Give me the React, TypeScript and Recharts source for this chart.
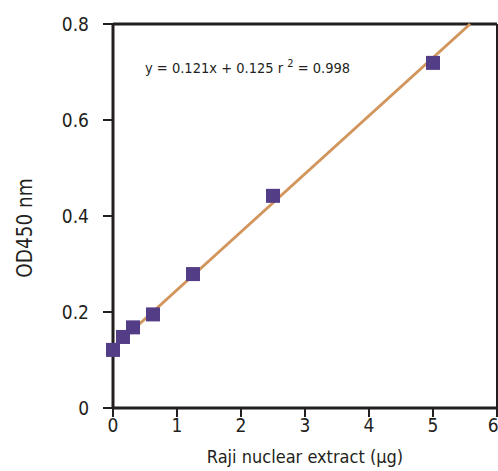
import React from 'react';
import {
  ScatterChart,
  Scatter,
  XAxis,
  YAxis,
  ReferenceLine,
} from 'recharts';

// Raji nuclear extract (µg) vs OD450
const extractUg = [0, 0.156, 0.3125, 0.625, 1.25, 2.5, 5];
const od450 = [0.121, 0.148, 0.168, 0.195, 0.279, 0.442, 0.719];

// fit line
const fitX = [0, 5.58];
const fitY = [0.125, 0.8];

const xTicks = [0, 1, 2, 3, 4, 5, 6];
const yTicks = [0, 0.2, 0.4, 0.6, 0.8];

const FONT = "'DejaVu Sans Condensed', 'Liberation Sans Narrow', sans-serif";
const AXIS = '#231f20';

const points = extractUg.map((x, i) => ({ x, y: od450[i] }));

const SquareDot = (props: any) => {
  const { cx, cy } = props;
  if (cx == null || cy == null) return null;
  return <rect x={cx - 7} y={cy - 7} width={14} height={14} fill="#543d87" />;
};

const YLabel = () => (
  <text
    x={25}
    y={228}
    transform="rotate(-90, 25, 228)"
    textAnchor="middle"
    dominantBaseline="central"
    fontSize={20.5}
    fill={AXIS}
    fontFamily={FONT}
  >
    OD450 nm
  </text>
);

export default function App() {
  return (
    <div style={{ position: 'absolute', left: 0, top: 0, width: 498, height: 471 }}>
      <ScatterChart
        width={498}
        height={471}
        margin={{ top: 24, right: 1, bottom: 0, left: 0 }}
      >
        <XAxis
          type="number"
          dataKey="x"
          domain={[0, 6]}
          ticks={xTicks}
          height={63}
          axisLine={{ stroke: AXIS, strokeWidth: 3 }}
          tickLine={{ stroke: AXIS, strokeWidth: 2 }}
          tickSize={9}
          tick={{ fill: AXIS, fontSize: 19, fontFamily: FONT }}
          label={{
            value: 'Raji nuclear extract (µg)',
            position: 'insideBottom',
            offset: 8,
            fill: AXIS,
            fontSize: 18,
            fontFamily: FONT,
          }}
        />
        <YAxis
          type="number"
          dataKey="y"
          domain={[0, 0.8]}
          ticks={yTicks}
          width={113}
          axisLine={{ stroke: AXIS, strokeWidth: 3 }}
          tickLine={{ stroke: AXIS, strokeWidth: 2 }}
          tickSize={10}
          tickMargin={14}
          tick={{ fill: AXIS, fontSize: 19, fontFamily: FONT }}
          label={{ content: <YLabel /> }}
        />
        <ReferenceLine y={0.8} stroke={AXIS} strokeWidth={3} />
        <ReferenceLine x={6} stroke={AXIS} strokeWidth={2} />
        <ReferenceLine
          segment={[
            { x: fitX[0], y: fitY[0] },
            { x: fitX[1], y: fitY[1] },
          ]}
          stroke="#d2955c"
          strokeWidth={3}
        />
        <Scatter
          data={points}
          shape={<SquareDot />}
          isAnimationActive={false}
        />
      </ScatterChart>
      <div
        style={{
          position: 'absolute',
          left: 145,
          top: 57,
          fontFamily: FONT,
          fontSize: 14.5,
          color: AXIS,
          whiteSpace: 'nowrap',
        }}
      >
        y = 0.121x + 0.125 r <sup style={{ fontSize: 11 }}>2</sup> = 0.998
      </div>
    </div>
  );
}
